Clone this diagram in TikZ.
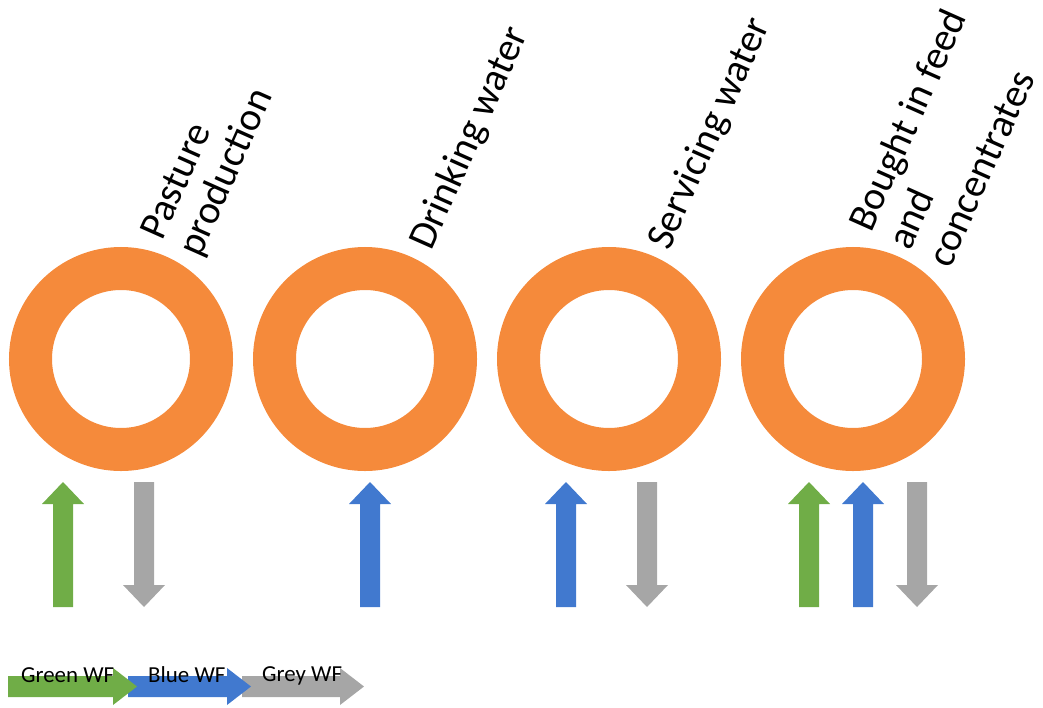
\documentclass[tikz,border=0pt]{standalone}
\usepackage{fontspec}
\setmainfont{Carlito}
\definecolor{ringc}{HTML}{F58A3B}
\definecolor{wfgreen}{HTML}{70AD47}
\definecolor{wfblue}{HTML}{4179CF}
\definecolor{wfgrey}{HTML}{A6A6A6}
\newcommand\wfup[3]{% name, x, colour
  \fill[#3] (#2-10,607) -- (#2-10,504) -- (#2-21,504) -- (#2,482) -- (#2+21,504) -- (#2+10,504) -- (#2+10,607) -- cycle;
  \coordinate (#1) at (#2,545);}
\newcommand\wfdown[3]{% name, x, colour
  \fill[#3] (#2-10,482) -- (#2+10,482) -- (#2+10,585) -- (#2+21,585) -- (#2,607) -- (#2-21,585) -- (#2-10,585) -- cycle;
  \coordinate (#1) at (#2,545);}
\newcommand\wfleg[3]{% left, head base, colour
  \fill[#3] (#1,676) -- (#2,676) -- (#2,668) -- (#2+24,686.5) -- (#2,705) -- (#2,697) -- (#1,697) -- cycle;}
\begin{document}
\begin{tikzpicture}[x=1pt,y=-1pt,
  ring/.style={circle, draw=ringc, line width=43pt, minimum size=181pt, inner sep=0pt},
  lbl/.style={rotate=66, anchor=base west, inner sep=0pt, font=\fontsize{40}{48}\selectfont},
  leg/.style={anchor=base west, inner sep=0pt, font=\fontsize{22.9}{27}\selectfont}]
\useasboundingbox (0,0) rectangle (1043,707);
% rings
\node[ring] (r1) at (121,359) {};
\node[ring] (r2) at (365,359) {};
\node[ring] (r3) at (609,359) {};
\node[ring] (r4) at (853,359) {};
% labels
\node[lbl] (l1a) at (162,242) {Pasture};
\node[lbl] (l1b) at (200,259) {production};
\node[lbl] (l2) at (431,252) {Drinking water};
\node[lbl] (l3) at (669,252) {Servicing water};
\node[lbl] (l4a) at (871,234) {Bought in feed};
\node[lbl] (l4b) at (910,252) {and};
\node[lbl] (l4c) at (950,270) {concentrates};
% arrows
\wfup{a1g}{63}{wfgreen}
\wfdown{a1r}{144}{wfgrey}
\wfup{a2b}{370}{wfblue}
\wfup{a3b}{566}{wfblue}
\wfdown{a3r}{647}{wfgrey}
\wfup{a4g}{809}{wfgreen}
\wfup{a4b}{863}{wfblue}
\wfdown{a4r}{917}{wfgrey}
% legend
\wfleg{242}{340}{wfgrey}
\wfleg{128}{227}{wfblue}
\wfleg{8}{113}{wfgreen}
\node[leg] (lg1) at (21,682) {Green WF};
\node[leg] (lg2) at (148,682) {Blue WF};
\node[leg] (lg3) at (262,681) {Grey WF};
\end{tikzpicture}
\end{document}
